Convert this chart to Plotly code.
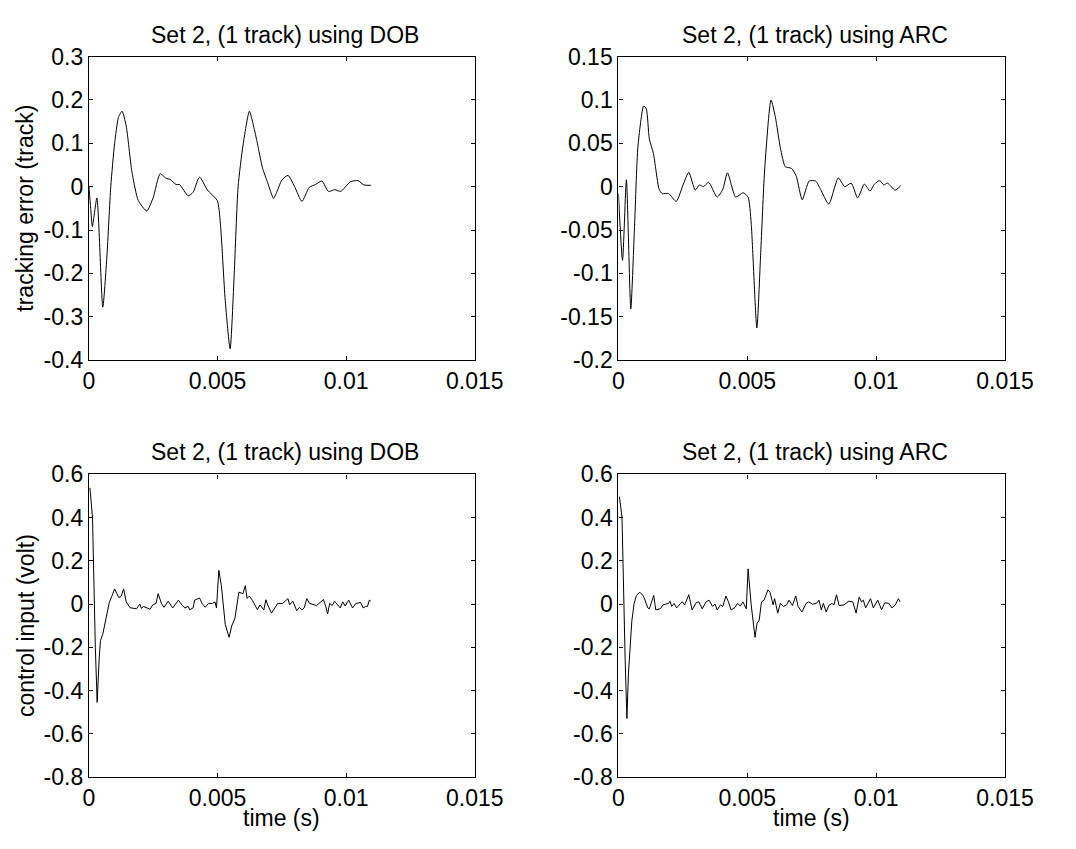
import numpy as np
import plotly.graph_objects as go

# ---------------- data (time in ms) ----------------
dob_err_t = [0.00, 0.07, 0.135, 0.31, 0.54, 0.70, 0.85, 1.0, 1.15, 1.29, 1.45, 1.67, 1.92, 2.25, 2.5,
             2.77, 2.98, 3.17, 3.39, 3.52, 3.86, 4.05, 4.30, 4.61, 4.99, 5.11, 5.30, 5.49, 5.65, 5.80,
             5.99, 6.24, 6.40, 6.55, 6.74, 6.95, 7.18, 7.30, 7.50, 7.74, 7.99, 8.28, 8.56, 8.81, 9.06,
             9.31, 9.56, 9.79, 10.16, 10.46, 10.69, 10.96]
dob_err_v = [0.0, -0.05, -0.092, -0.026, -0.278, -0.16, 0.0, 0.10, 0.16, 0.174, 0.14, 0.035, -0.032, -0.056, -0.025,
             0.030, 0.020, 0.016, 0.005, 0.005, -0.021, -0.013, 0.022, -0.008, -0.032, -0.084, -0.263, -0.374, -0.2, 0.0,
             0.095, 0.174, 0.140, 0.100, 0.045, 0.009, -0.027, -0.013, 0.015, 0.026, 0.001, -0.034, -0.002, 0.005, 0.013,
             -0.011, -0.007, -0.011, 0.011, 0.014, 0.004, 0.003]

arc_err_t = [0.00, 0.16, 0.31, 0.48, 0.62, 0.76, 0.98, 1.08, 1.20, 1.36, 1.58, 1.70, 1.95, 2.24, 2.52, 2.73,
             2.98, 3.14, 3.30, 3.50, 3.83, 4.05, 4.23, 4.55, 4.84, 5.03, 5.15, 5.37, 5.52, 5.67, 5.92, 6.09,
             6.28, 6.47, 6.60, 6.72, 6.90, 7.13, 7.40, 7.65, 7.84, 8.16, 8.53, 8.78, 9.03, 9.28, 9.54, 9.76,
             9.93, 10.14, 10.29, 10.44, 10.73, 10.95]
arc_err_v = [-0.008, -0.085, 0.008, -0.141, -0.05, 0.047, 0.093, 0.090, 0.055, 0.038, -0.003, -0.008, -0.008, -0.017, 0.003, 0.0165,
             -0.004, 0.002, 0.000, 0.005, -0.012, -0.003, 0.016, -0.012, -0.007, -0.012, -0.042, -0.163, -0.076, 0.018, 0.100, 0.080,
             0.045, 0.023, 0.022, 0.021, 0.012, -0.015, 0.0065, 0.0065, -0.003, -0.020, 0.010, 0.000, 0.004, -0.013, 0.003, -0.005,
             0.003, 0.007, 0.002, 0.004, -0.004, 0.001]

dob_u_t = [0.04, 0.14, 0.25, 0.32, 0.40, 0.45, 0.54, 0.66, 0.79, 0.88, 1.00, 1.16, 1.25, 1.35, 1.45, 1.60,
           1.85, 1.98, 2.04, 2.12, 2.25, 2.38, 2.48, 2.61, 2.69, 2.82, 2.92, 3.08, 3.26, 3.48, 3.61, 3.73,
           3.86, 3.92, 4.05, 4.11, 4.30, 4.40, 4.52, 4.65, 4.80, 4.90, 4.96, 5.05, 5.15, 5.30, 5.45, 5.55,
           5.68, 5.83, 5.99, 6.08, 6.15, 6.24, 6.36, 6.55, 6.65, 6.74, 6.80, 6.88, 6.95, 7.10, 7.34, 7.53,
           7.74, 7.80, 7.93, 8.08, 8.18, 8.28, 8.37, 8.47, 8.58, 8.85, 9.12, 9.21, 9.28, 9.36, 9.46, 9.55,
           9.77, 9.87, 9.96, 10.10, 10.25, 10.38, 10.57, 10.66, 10.76, 10.83, 10.90, 10.96]
dob_u_v = [0.538, 0.40, -0.20, -0.455, -0.25, -0.169, -0.139, -0.064, 0.006, 0.033, 0.070, 0.030, 0.035, 0.070, 0.010, -0.017,
           -0.022, 0.0, -0.020, -0.011, -0.018, -0.024, -0.004, 0.003, 0.048, 0.003, -0.015, 0.013, -0.018, 0.018, -0.004, -0.018,
           -0.011, -0.026, -0.018, 0.018, 0.028, 0.003, -0.015, 0.003, 0.003, 0.010, -0.018, 0.156, 0.085, -0.094, -0.154, -0.102,
           -0.064, 0.055, 0.048, 0.085, 0.026, 0.037, 0.016, -0.026, -0.004, -0.018, -0.027, 0.020, -0.004, -0.042, 0.003, 0.003,
           0.025, -0.004, 0.013, -0.031, -0.016, -0.027, -0.018, 0.025, 0.003, -0.007, 0.021, -0.012, -0.046, 0.003, -0.007, 0.013,
           -0.018, 0.010, -0.009, 0.018, -0.018, 0.003, 0.007, -0.018, -0.011, -0.011, 0.018, 0.013]

arc_u_t = [0.04, 0.14, 0.26, 0.33, 0.39, 0.52, 0.61, 0.70, 0.83, 0.95, 1.00, 1.14, 1.20, 1.26, 1.37, 1.45,
           1.63, 1.73, 1.94, 2.00, 2.07, 2.16, 2.26, 2.41, 2.48, 2.57, 2.73, 2.86, 3.02, 3.12, 3.25, 3.40,
           3.52, 3.65, 3.75, 3.83, 3.96, 4.05, 4.17, 4.27, 4.37, 4.52, 4.62, 4.73, 4.83, 4.96, 5.03, 5.15,
           5.30, 5.38, 5.46, 5.55, 5.65, 5.80, 5.88, 6.00, 6.06, 6.18, 6.28, 6.40, 6.52, 6.62, 6.75, 6.88,
           6.97, 7.12, 7.28, 7.38, 7.53, 7.68, 7.78, 7.87, 7.95, 8.06, 8.16, 8.28, 8.36, 8.46, 8.56, 8.75,
           8.93, 9.09, 9.22, 9.34, 9.43, 9.50, 9.59, 9.68, 9.78, 9.89, 10.06, 10.21, 10.33, 10.49, 10.61, 10.74,
           10.86, 10.93]
arc_u_v = [0.497, 0.40, -0.25, -0.53, -0.32, -0.079, 0.003, 0.040, 0.055, 0.040, 0.028, -0.018, -0.022, 0.003, 0.040, -0.027,
           -0.022, -0.004, 0.003, 0.013, -0.011, 0.003, -0.018, 0.003, 0.010, -0.004, 0.043, -0.027, 0.007, 0.010, -0.022, 0.010,
           0.018, -0.011, 0.0, -0.027, -0.004, -0.011, 0.037, 0.010, -0.027, -0.016, 0.003, -0.009, 0.010, -0.022, 0.163, -0.004,
           -0.154, -0.087, -0.076, 0.010, 0.018, 0.066, 0.055, -0.004, 0.025, -0.042, 0.003, -0.011, -0.004, 0.018, -0.007, 0.037,
           -0.011, -0.037, 0.003, 0.010, -0.001, 0.003, 0.018, -0.027, 0.003, -0.037, -0.007, 0.003, -0.004, 0.043, -0.007, -0.004,
           0.013, 0.010, -0.042, 0.033, 0.010, 0.018, -0.018, 0.003, 0.025, -0.018, 0.018, -0.027, 0.006, 0.003, -0.018, -0.004,
           0.025, 0.010]

titles = ["Set 2, (1 track) using DOB", "Set 2, (1 track) using ARC",
          "Set 2, (1 track) using DOB", "Set 2, (1 track) using ARC"]
ylabel_top = "tracking error (track)"
ylabel_bottom = "control input (volt)"
xlabel = "time (s)"

x_tickvals = [0, 0.005, 0.01, 0.015]
x_ticktext = ["0", "0.005", "0.01", "0.015"]
y_tl_vals = [0.3, 0.2, 0.1, 0, -0.1, -0.2, -0.3, -0.4]
y_tl_text = ["0.3", "0.2", "0.1", "0", "-0.1", "-0.2", "-0.3", "-0.4"]
y_tr_vals = [0.15, 0.1, 0.05, 0, -0.05, -0.1, -0.15, -0.2]
y_tr_text = ["0.15", "0.1", "0.05", "0", "-0.05", "-0.1", "-0.15", "-0.2"]
y_b_vals = [0.6, 0.4, 0.2, 0, -0.2, -0.4, -0.6, -0.8]
y_b_text = ["0.6", "0.4", "0.2", "0", "-0.2", "-0.4", "-0.6", "-0.8"]

# ---------------- figure ----------------
W, H = 1076, 849
FONT = "Liberation Sans, Arial, sans-serif"
FS = 23

dom_x = [[85.7 / W, 484.5 / W], [633 / W, 1032.7 / W]]
dom_y_top = [1 - 358 / H, 1 - 45 / H]
dom_y_bot = [1 - 788 / H, 1 - 476 / H]

fig = go.Figure()

series = [
    (dob_err_t, dob_err_v, "x", "y", "spline"),
    (arc_err_t, arc_err_v, "x2", "y2", "spline"),
    (dob_u_t, dob_u_v, "x3", "y3", "linear"),
    (arc_u_t, arc_u_v, "x4", "y4", "linear"),
]
for t, v, xa, ya, shape in series:
    fig.add_trace(go.Scatter(
        x=np.array(t) / 1000.0, y=v, xaxis=xa, yaxis=ya, mode="lines",
        line=dict(color="black", width=1.0, shape=shape, smoothing=0.6 if shape == "spline" else None),
        showlegend=False, hoverinfo="skip"))

common = dict(showline=True, linecolor="black", linewidth=1.2, mirror="ticks",
              ticks="inside", ticklen=4, tickwidth=1, tickcolor="black",
              showgrid=False, zeroline=False,
              tickfont=dict(family=FONT, size=FS, color="black"))

xax = dict(range=[0, 0.015], tickvals=x_tickvals, ticktext=x_ticktext, **common)

layout = dict(
    width=W, height=H, margin=dict(l=0, r=0, t=0, b=0),
    paper_bgcolor="white", plot_bgcolor="white",
    xaxis=dict(domain=dom_x[0], anchor="y", **xax),
    xaxis2=dict(domain=dom_x[1], anchor="y2", **xax),
    xaxis3=dict(domain=dom_x[0], anchor="y3", **xax),
    xaxis4=dict(domain=dom_x[1], anchor="y4", **xax),
    yaxis=dict(domain=dom_y_top, anchor="x", range=[-0.4, 0.3], tickvals=y_tl_vals, ticktext=y_tl_text, **common),
    yaxis2=dict(domain=dom_y_top, anchor="x2", range=[-0.2, 0.15], tickvals=y_tr_vals, ticktext=y_tr_text, **common),
    yaxis3=dict(domain=dom_y_bot, anchor="x3", range=[-0.8, 0.6], tickvals=y_b_vals, ticktext=y_b_text, **common),
    yaxis4=dict(domain=dom_y_bot, anchor="x4", range=[-0.8, 0.6], tickvals=y_b_vals, ticktext=y_b_text, **common),
)
fig.update_layout(**layout)

ann = []
pos = [(dom_x[0], dom_y_top), (dom_x[1], dom_y_top), (dom_x[0], dom_y_bot), (dom_x[1], dom_y_bot)]
for title, (dx, dy) in zip(titles, pos):
    ann.append(dict(text=title, x=(dx[0] + dx[1]) / 2, y=dy[1], xref="paper", yref="paper",
                    xanchor="center", yanchor="bottom", yshift=7, xshift=3, showarrow=False,
                    font=dict(family=FONT, size=FS, color="black")))
ann.append(dict(text=ylabel_top, x=20 / W, y=(dom_y_top[0] + dom_y_top[1]) / 2, xref="paper", yref="paper",
                xanchor="center", yanchor="middle", textangle=-90, showarrow=False,
                font=dict(family=FONT, size=FS, color="black")))
ann.append(dict(text=ylabel_bottom, x=20 / W, y=(dom_y_bot[0] + dom_y_bot[1]) / 2, xref="paper", yref="paper",
                xanchor="center", yanchor="middle", textangle=-90, showarrow=False,
                font=dict(family=FONT, size=FS, color="black")))
for dx in dom_x:
    ann.append(dict(text=xlabel, x=(dx[0] + dx[1]) / 2, y=1 - 830 / H, xref="paper", yref="paper",
                    xanchor="center", yanchor="middle", showarrow=False,
                    font=dict(family=FONT, size=FS, color="black")))
fig.update_layout(annotations=ann)

fig.write_html("out.html")
